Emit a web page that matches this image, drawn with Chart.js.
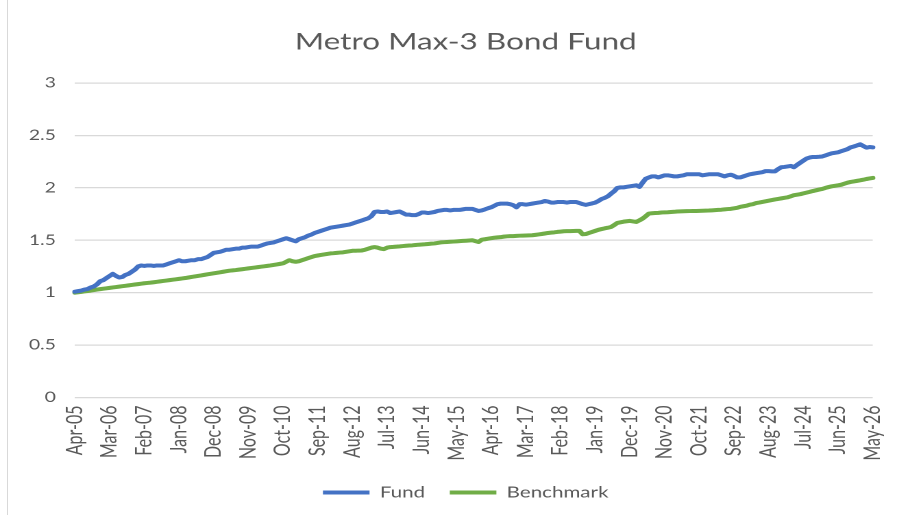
<!DOCTYPE html>
<html>
<head>
<meta charset="utf-8">
<script src="https://cdn.jsdelivr.net/npm/chart.js@4.4.1/dist/chart.umd.min.js"></script>
<style>
    html, body { margin: 0; padding: 0; background: #fff; }
    body { width: 910px; height: 515px; overflow: hidden; position: relative; }
    #frame { position: absolute; left: 7px; top: 0; width: 1px; height: 515px; background: #d9d9d9; }
    /* picture is stretched sideways, so draw narrow and scale */
    #wrap { position: absolute; left: 0; top: 0; width: 664px; height: 515px; transform: scaleX(1.3705); transform-origin: 0 0; }
</style>
</head>
<body>
<div id="frame"></div>
<div id="wrap"><canvas id="chart" width="664" height="515"></canvas></div>
<script>
// Metro Max-3 Bond Fund vs benchmark, monthly Apr-05 .. May-26
const tickLabels = ['Apr-05', 'Mar-06', 'Feb-07', 'Jan-08', 'Dec-08', 'Nov-09', 'Oct-10', 'Sep-11',
    'Aug-12', 'Jul-13', 'Jun-14', 'May-15', 'Apr-16', 'Mar-17', 'Feb-18', 'Jan-19', 'Dec-19',
    'Nov-20', 'Oct-21', 'Sep-22', 'Aug-23', 'Jul-24', 'Jun-25', 'May-26'];
const tickEvery = 11;

const fund = [
    1.01, 1.015, 1.02, 1.03, 1.035, 1.05, 1.06, 1.08, 1.11, 1.12, 1.14,
    1.16, 1.18, 1.16, 1.145, 1.15, 1.17, 1.18, 1.20, 1.22, 1.25, 1.26,
    1.255, 1.26, 1.26, 1.255, 1.26, 1.26, 1.26, 1.27, 1.28, 1.29, 1.30,
    1.31, 1.30, 1.30, 1.305, 1.31, 1.31, 1.32, 1.32, 1.33, 1.34, 1.36,
    1.38, 1.385, 1.39, 1.40, 1.41, 1.41, 1.415, 1.42, 1.42, 1.43, 1.43,
    1.435, 1.44, 1.44, 1.44, 1.45, 1.46, 1.47, 1.475, 1.48, 1.49, 1.50,
    1.51, 1.52, 1.51, 1.50, 1.49, 1.51, 1.52, 1.53, 1.545, 1.555, 1.57,
    1.58, 1.59, 1.60, 1.61, 1.62, 1.625, 1.63, 1.635, 1.64, 1.645, 1.65,
    1.66, 1.67, 1.68, 1.69, 1.70, 1.71, 1.73, 1.77, 1.775, 1.77, 1.77,
    1.775, 1.76, 1.765, 1.77, 1.775, 1.76, 1.745, 1.745, 1.74, 1.74, 1.75,
    1.765, 1.765, 1.76, 1.765, 1.77, 1.78, 1.785, 1.79, 1.79, 1.785, 1.79,
    1.79, 1.79, 1.795, 1.80, 1.80, 1.80, 1.79, 1.78, 1.785, 1.795, 1.806,
    1.815, 1.83, 1.845, 1.85, 1.85, 1.85, 1.845, 1.835, 1.815, 1.845, 1.845,
    1.84, 1.845, 1.85, 1.855, 1.86, 1.865, 1.875, 1.87, 1.86, 1.86, 1.865,
    1.865, 1.865, 1.86, 1.865, 1.865, 1.865, 1.855, 1.845, 1.838, 1.845, 1.852,
    1.86, 1.875, 1.894, 1.905, 1.92, 1.945, 1.968, 2.0, 2.005, 2.005, 2.01,
    2.015, 2.02, 2.025, 2.01, 2.05, 2.087, 2.10, 2.11, 2.11, 2.10, 2.11,
    2.12, 2.12, 2.115, 2.11, 2.11, 2.115, 2.12, 2.13, 2.13, 2.13, 2.13,
    2.13, 2.12, 2.125, 2.13, 2.13, 2.13, 2.13, 2.12, 2.11, 2.12, 2.126,
    2.115, 2.10, 2.10, 2.11, 2.12, 2.13, 2.135, 2.14, 2.145, 2.15, 2.16,
    2.16, 2.158, 2.158, 2.18, 2.197, 2.20, 2.205, 2.21, 2.197, 2.22, 2.24,
    2.26, 2.28, 2.29, 2.295, 2.295, 2.297, 2.30, 2.31, 2.32, 2.33, 2.335,
    2.34, 2.35, 2.36, 2.37, 2.387, 2.395, 2.405, 2.416, 2.40, 2.384, 2.39,
    2.387
];

const benchmark = [
    1.00, 1.004, 1.008, 1.012, 1.016, 1.02, 1.025, 1.03, 1.034, 1.038, 1.042,
    1.046, 1.05, 1.054, 1.058, 1.062, 1.066, 1.07, 1.074, 1.078, 1.082, 1.086,
    1.09, 1.093, 1.096, 1.10, 1.104, 1.108, 1.112, 1.116, 1.12, 1.124, 1.128,
    1.132, 1.136, 1.14, 1.145, 1.15, 1.155, 1.16, 1.165, 1.17, 1.175, 1.18,
    1.185, 1.19, 1.195, 1.20, 1.205, 1.21, 1.213, 1.216, 1.22, 1.224, 1.228,
    1.232, 1.236, 1.24, 1.244, 1.248, 1.252, 1.256, 1.26, 1.265, 1.27, 1.275,
    1.28, 1.295, 1.31, 1.30, 1.295, 1.30, 1.31, 1.32, 1.33, 1.34, 1.35,
    1.355, 1.36, 1.365, 1.37, 1.375, 1.377, 1.38, 1.383, 1.385, 1.39, 1.395,
    1.40, 1.40, 1.402, 1.403, 1.41, 1.42, 1.43, 1.435, 1.43, 1.42, 1.416,
    1.43, 1.435, 1.437, 1.44, 1.442, 1.445, 1.448, 1.45, 1.452, 1.455, 1.458,
    1.46, 1.462, 1.465, 1.468, 1.47, 1.475, 1.48, 1.482, 1.484, 1.486, 1.488,
    1.49, 1.492, 1.494, 1.496, 1.498, 1.50, 1.492, 1.484, 1.506, 1.51, 1.515,
    1.52, 1.525, 1.528, 1.53, 1.535, 1.538, 1.54, 1.54, 1.542, 1.544, 1.545,
    1.546, 1.547, 1.548, 1.552, 1.556, 1.56, 1.565, 1.57, 1.573, 1.576, 1.58,
    1.583, 1.586, 1.587, 1.588, 1.589, 1.59, 1.59, 1.557, 1.56, 1.57, 1.58,
    1.59, 1.60, 1.607, 1.614, 1.62, 1.627, 1.645, 1.666, 1.672, 1.678, 1.682,
    1.685, 1.68, 1.675, 1.69, 1.707, 1.73, 1.755, 1.758, 1.76, 1.762, 1.765,
    1.767, 1.768, 1.77, 1.772, 1.775, 1.776, 1.777, 1.778, 1.779, 1.78, 1.78,
    1.781, 1.782, 1.783, 1.784, 1.786, 1.788, 1.79, 1.792, 1.795, 1.798, 1.80,
    1.805, 1.81, 1.82, 1.825, 1.83, 1.84, 1.845, 1.855, 1.86, 1.866, 1.872,
    1.878, 1.884, 1.89, 1.895, 1.90, 1.905, 1.91, 1.92, 1.93, 1.935, 1.94,
    1.948, 1.955, 1.962, 1.97, 1.977, 1.984, 1.99, 2.0, 2.008, 2.015, 2.02,
    2.025, 2.03, 2.04, 2.05, 2.057, 2.062, 2.067, 2.072, 2.078, 2.085, 2.09,
    2.095
];

// month categories, Apr-05 onwards
const monthNames = ['Jan', 'Feb', 'Mar', 'Apr', 'May', 'Jun', 'Jul', 'Aug', 'Sep', 'Oct', 'Nov', 'Dec'];
const months = [];
for (let i = 0; i < fund.length; i++) {
    const m = (3 + i) % 12;
    const y = 5 + Math.floor((3 + i) / 12);
    months.push(monthNames[m] + '-' + String(y).padStart(2, '0'));
}

const gray = '#595959';
const font = 'Lato, "Open Sans", sans-serif';

// title and legend sit a bit right of the canvas centre in the original
const nudgeBlocks = {
    id: 'nudgeBlocks',
    afterLayout(chart) {
        const dx = 7;
        [chart.titleBlock, chart.legend].forEach(box => {
            if (!box) return;
            box.left += dx;
            box.right += dx;
        });
    },
};

new Chart(document.getElementById('chart'), {
    type: 'line',
    data: {
        labels: months,
        datasets: [
            {
                label: 'Fund',
                data: fund,
                borderColor: '#4472C4',
                backgroundColor: '#4472C4',
                borderWidth: 4,
                borderCapStyle: 'round',
                borderJoinStyle: 'round',
                pointRadius: 0,
                tension: 0,
            },
            {
                label: 'Benchmark',
                data: benchmark,
                borderColor: '#70AD47',
                backgroundColor: '#70AD47',
                borderWidth: 4,
                borderCapStyle: 'round',
                borderJoinStyle: 'round',
                pointRadius: 0,
                tension: 0,
            },
        ],
    },
    plugins: [nudgeBlocks],
    options: {
        responsive: false,
        animation: false,
        devicePixelRatio: 2,
        layout: {
            padding: { left: 14, right: 12.4, top: 0, bottom: 5 },
        },
        plugins: {
            title: {
                display: true,
                text: 'Metro Max-3 Bond Fund',
                color: gray,
                font: { family: font, size: 23, weight: 'normal' },
                padding: { top: 28.5, bottom: 27 },
            },
            legend: {
                position: 'bottom',
                labels: {
                    usePointStyle: true,
                    pointStyle: 'line',
                    pointStyleWidth: 34,
                    color: gray,
                    font: { family: font, size: 15 },
                    padding: 18,
                },
            },
            tooltip: { enabled: false },
        },
        scales: {
            x: {
                offset: false,
                grid: { display: false, drawTicks: false },
                border: { display: false },
                ticks: {
                    autoSkip: false,
                    minRotation: 90,
                    maxRotation: 90,
                    padding: 8,
                    color: gray,
                    font: { family: font, size: 16 },
                    callback: (value, index) => index % tickEvery === 0 ? tickLabels[index / tickEvery] : null,
                },
                afterFit: (scale) => { scale.height = 69.5; },
            },
            y: {
                min: 0,
                max: 3,
                grid: { color: '#d9d9d9', lineWidth: 1.3, drawTicks: false },
                border: { display: false },
                ticks: {
                    stepSize: 0.5,
                    padding: 14,
                    color: gray,
                    font: { family: font, size: 14 },
                    callback: (v) => String(v),
                },
                afterFit: (scale) => { scale.width = 40.7; },
            },
        },
    },
});
</script>
</body>
</html>
